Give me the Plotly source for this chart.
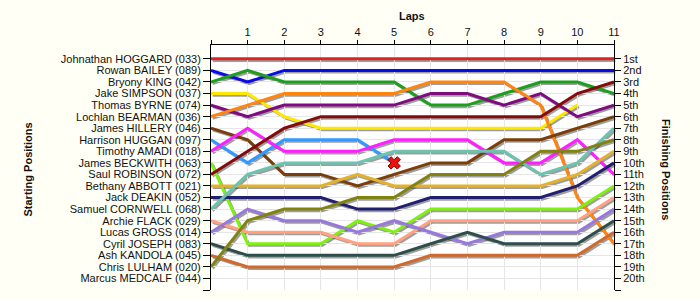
import plotly.graph_objects as go

# ---------------- data ----------------
laps = [0, 1, 2, 3, 4, 5, 6, 7, 8, 9, 10, 11]
lap_labels = ["", "1", "2", "3", "4", "5", "6", "7", "8", "9", "10", "11"]

drivers = [
    "Johnathan HOGGARD (033)", "Rowan BAILEY (089)", "Bryony KING (042)",
    "Jake SIMPSON (037)", "Thomas BYRNE (074)", "Lochlan BEARMAN (036)",
    "James HILLERY (046)", "Harrison HUGGAN (097)", "Timothy AMADI (018)",
    "James BECKWITH (063)", "Saul ROBINSON (072)", "Bethany ABBOTT (021)",
    "Jack DEAKIN (052)", "Samuel CORNWELL (068)", "Archie FLACK (029)",
    "Lucas GROSS (014)", "Cyril JOSEPH (083)", "Ash KANDOLA (045)",
    "Chris LULHAM (020)", "Marcus MEDCALF (044)",
]
finish_labels = ["1st", "2nd", "3rd", "4th", "5th", "6th", "7th", "8th", "9th",
                 "10th", "11th", "12th", "13th", "14th", "15th", "16th", "17th",
                 "18th", "19th", "20th"]

hoggard = [1, 1, 1, 1, 1, 1, 1, 1, 1, 1, 1, 1]
bailey = [2, 3, 2, 2, 2, 2, 2, 2, 2, 2, 2, 2]
king = [3, 2, 3, 3, 3, 3, 5, 5, 4, 3, 3, 4]
simpson = [4, 4, 6, 7, 7, 7, 7, 7, 7, 7, 5]
byrne = [5, 6, 5, 5, 5, 5, 4, 4, 5, 4, 6, 5]
bearman = [6, 5, 4, 4, 4, 4, 3, 3, 3, 5, 13, 17]
hillery = [7, 8, 11, 11, 12, 11, 10, 10, 8, 8, 7, 6]
huggan = [8, 10, 8, 8, 8, 10]
amadi = [9, 7, 9, 9, 9, 8, 8, 8, 10, 10, 8, 11]
beckwith = [10, 17, 17, 17, 15, 16, 14, 14, 14, 14, 14, 12]
robinson = [11, 9, 7, 6, 6, 6, 6, 6, 6, 6, 4, 3]
abbott = [12, 12, 12, 12, 11, 12, 12, 12, 12, 12, 11, 9]
deakin = [13, 13, 13, 13, 14, 14, 13, 13, 13, 13, 12, 10]
cornwell = [14, 11, 10, 10, 10, 9, 9, 9, 9, 11, 10, 7]
flack = [15, 16, 16, 16, 17, 17, 15, 15, 15, 15, 15, 13]
gross = [16, 14, 15, 15, 16, 15, 16, 17, 16, 16, 16, 14]
joseph = [17, 18, 18, 18, 18, 18, 17, 16, 17, 17, 17, 15]
kandola = [18, 19, 19, 19, 19, 19, 18, 18, 18, 18, 18, 16]
lulham = [19, 15, 14, 14, 13, 13, 11, 11, 11, 9, 9, 8]
medcalf = []

series = [hoggard, bailey, king, simpson, byrne, bearman, hillery, huggan, amadi,
          beckwith, robinson, abbott, deakin, cornwell, flack, gross, joseph,
          kandola, lulham, medcalf]
colors = ["#DD2424", "#0A0AE6", "#1E9E1E", "#FFE800", "#800A80", "#FF8410",
          "#7A3E0A", "#3399FF", "#FF1EFF", "#80F010", "#850A0A", "#E2B22E",
          "#20206E", "#6CC4AE", "#FFA282", "#9878DC", "#2E4E4A", "#D06A2C",
          "#828210", "#888888"]
retired = {7: True}  # Harrison HUGGAN crashed

# ---------------- figure ----------------
W, H = 700, 300
px_l, px_r, px_t, px_b = 211, 614, 45, 290
dx, dy = 1.5, 1.6  # shadow offset in px

fig = go.Figure()

for i, ys in enumerate(series):
    if not ys:
        continue
    xs = laps[:len(ys)]
    fig.add_trace(go.Scatter(x=xs, y=ys, mode="lines", xaxis="x", yaxis="y",
                             line=dict(color="rgba(40,40,40,0.45)", width=3),
                             hoverinfo="skip", showlegend=False))
for i, ys in enumerate(series):
    if not ys:
        continue
    xs = laps[:len(ys)]
    fig.add_trace(go.Scatter(x=xs, y=ys, mode="lines", xaxis="x2", yaxis="y2",
                             line=dict(color=colors[i], width=3),
                             name=drivers[i], showlegend=False))
    if retired.get(i):
        fig.add_trace(go.Scatter(x=[xs[-1]], y=[ys[-1]], mode="markers",
                                 xaxis="x2", yaxis="y2",
                                 marker=dict(symbol="x", size=11, color="#EE1010",
                                             line=dict(color="#7A0000", width=1)),
                                 showlegend=False))

yr = [21, -0.2]
font = dict(family="Liberation Sans, Arial, sans-serif", size=11, color="#111111")

xd = [px_l / W, px_r / W]
yd = [1 - px_b / H, 1 - px_t / H]
xd_s = [(px_l + dx) / W, (px_r + dx) / W]
yd_s = [1 - (px_b + dy) / H, 1 - (px_t + dy) / H]

fig.update_layout(
    width=W, height=H,
    margin=dict(l=0, r=0, t=0, b=0),
    paper_bgcolor="#FFFFF5",
    plot_bgcolor="rgba(0,0,0,0)",
    font=font,
    showlegend=False,
    xaxis=dict(domain=xd_s, range=[0, 11], visible=False, anchor="y"),
    yaxis=dict(domain=yd_s, range=yr, visible=False, anchor="x"),
    xaxis2=dict(domain=xd, range=[0, 11], anchor="y2", side="top",
                tickmode="array", tickvals=laps, ticktext=lap_labels,
                ticks="outside", ticklen=4, tickcolor="black",
                showline=True, linecolor="black", linewidth=1,
                showgrid=True, gridcolor="#E6E6E6", gridwidth=1,
                zeroline=False, tickfont=font, automargin=False),
    yaxis2=dict(domain=yd, range=yr, anchor="x2",
                tickmode="array", tickvals=list(range(1, 22)),
                ticktext=drivers + [""],
                ticks="outside", ticklen=7, tickcolor="black",
                showline=True, linecolor="black", linewidth=1,
                showgrid=True, gridcolor="#E6E6E6", gridwidth=1,
                zeroline=False, tickfont=font, automargin=False),
    yaxis3=dict(overlaying="y2", side="right", anchor="x2", range=yr,
                tickmode="array", tickvals=list(range(1, 22)),
                ticktext=finish_labels + [""],
                ticks="outside", ticklen=6, tickcolor="black",
                showline=True, linecolor="black", linewidth=1,
                showgrid=False, zeroline=False, tickfont=font, automargin=False),
    shapes=[dict(type="rect", xref="paper", yref="paper",
                 x0=xd[0], x1=xd[1], y0=yd[0], y1=yd[1],
                 fillcolor="white", line=dict(width=0), layer="below")],
    annotations=[
        dict(text="<b>Laps</b>", xref="paper", yref="paper",
             x=412 / W, y=1 - 16 / H, xanchor="center", yanchor="middle",
             showarrow=False, font=font),
        dict(text="<b>Starting Positions</b>", xref="paper", yref="paper",
             x=27.5 / W, y=1 - 170 / H, xanchor="center", yanchor="middle",
             showarrow=False, textangle=-90, font=font),
        dict(text="<b>Finishing Positions</b>", xref="paper", yref="paper",
             x=666 / W, y=1 - 169 / H, xanchor="center", yanchor="middle",
             showarrow=False, textangle=90, font=font),
    ],
)

fig.add_trace(go.Scatter(x=[None], y=[None], xaxis="x2", yaxis="y3",
                         showlegend=False, hoverinfo="skip"))

fig.write_html("out.html")
